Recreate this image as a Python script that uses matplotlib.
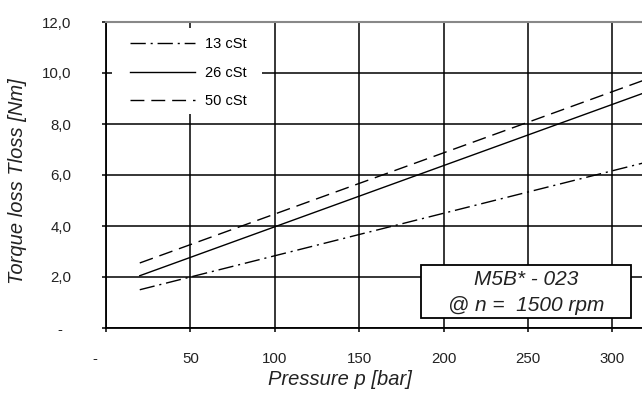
import matplotlib
matplotlib.use("Agg")
import matplotlib.pyplot as plt
from matplotlib.patches import Rectangle

plt.rcParams['font.family'] = ['Liberation Sans', 'DejaVu Sans']

# Data
pressure = [20, 320]
series_labels = ["13 cSt", "26 cSt", "50 cSt"]
torque_13 = [1.50, 6.50]
torque_26 = [2.05, 9.25]
torque_50 = [2.55, 9.75]
x_ticks = [0, 50, 100, 150, 200, 250, 300]
x_ticklabels = ["-     ", "50", "100", "150", "200", "250", "300"]
y_ticks = [0, 2, 4, 6, 8, 10, 12]
y_ticklabels = ["-  ", "2,0", "4,0", "6,0", "8,0", "10,0", "12,0"]
box_lines = ["M5B* - 023", "@ n =  1500 rpm"]

fig = plt.figure(figsize=(6.42, 3.96), dpi=100)
ax = fig.add_axes([106/642, 1-328/396, 1-106/642, (328-22)/396])

ax.set_xlim(0, 317.5)
ax.set_ylim(0, 12)

ax.grid(True, color='black', linewidth=1.1)
ax.set_axisbelow(True)

ax.plot(pressure, torque_13, color='black', lw=1.0, dashes=(11, 3.5, 1.5, 3.5), label=series_labels[0])
ax.plot(pressure, torque_26, color='black', lw=1.0, label=series_labels[1])
ax.plot(pressure, torque_50, color='black', lw=1.0, dashes=(10, 5), label=series_labels[2])

ax.set_xticks(x_ticks)
ax.set_xticklabels(x_ticklabels)
ax.set_yticks(y_ticks)
ax.set_yticklabels(y_ticklabels)
ax.tick_params(axis='x', direction='out', length=3, width=1.1, pad=14, labelsize=10.8,
               labelcolor='#222222')
ax.tick_params(axis='y', direction='out', length=3, width=1.1, pad=22, labelsize=10.8,
               labelcolor='#222222')

for s in ['left', 'bottom']:
    ax.spines[s].set_color('black')
    ax.spines[s].set_linewidth(1.3)
ax.spines['top'].set_color('#888888')
ax.spines['top'].set_linewidth(1.5)
ax.spines['right'].set_visible(False)

ax.set_xlabel("Pressure p [bar]", fontsize=14.5, fontstyle='italic', color='#222222')
ax.set_ylabel("Torque loss Tloss [Nm]", fontsize=14.5, fontstyle='italic', color='#222222')
ax.xaxis.set_label_coords(0.437, -0.137)
ax.yaxis.set_label_coords(-0.147, 0.48)

# white area behind legend
ax.add_patch(Rectangle((0.0112, 0.699), 0.28, 0.281, transform=ax.transAxes,
                       facecolor='white', edgecolor='none', zorder=2.5))
leg = ax.legend(loc='upper left', bbox_to_anchor=(0.0448, 0.95), fontsize=10.5,
                frameon=False, handlelength=4.45, handletextpad=0.7, labelspacing=1.0,
                borderpad=0, borderaxespad=0)
leg.set_zorder(3)

# annotation box
ax.add_patch(Rectangle((0.5877, 0.0327), 0.3918, 0.1732, transform=ax.transAxes,
                       facecolor='white', edgecolor='black', lw=1.3, zorder=5))
ax.text(0.7836, 0.157, box_lines[0], transform=ax.transAxes, ha='center', va='center',
        fontsize=15, fontstyle='italic', color='#222222', zorder=6)
ax.text(0.7836, 0.073, box_lines[1], transform=ax.transAxes, ha='center', va='center',
        fontsize=15, fontstyle='italic', color='#222222', zorder=6)

fig.savefig("out.png", dpi=100)
